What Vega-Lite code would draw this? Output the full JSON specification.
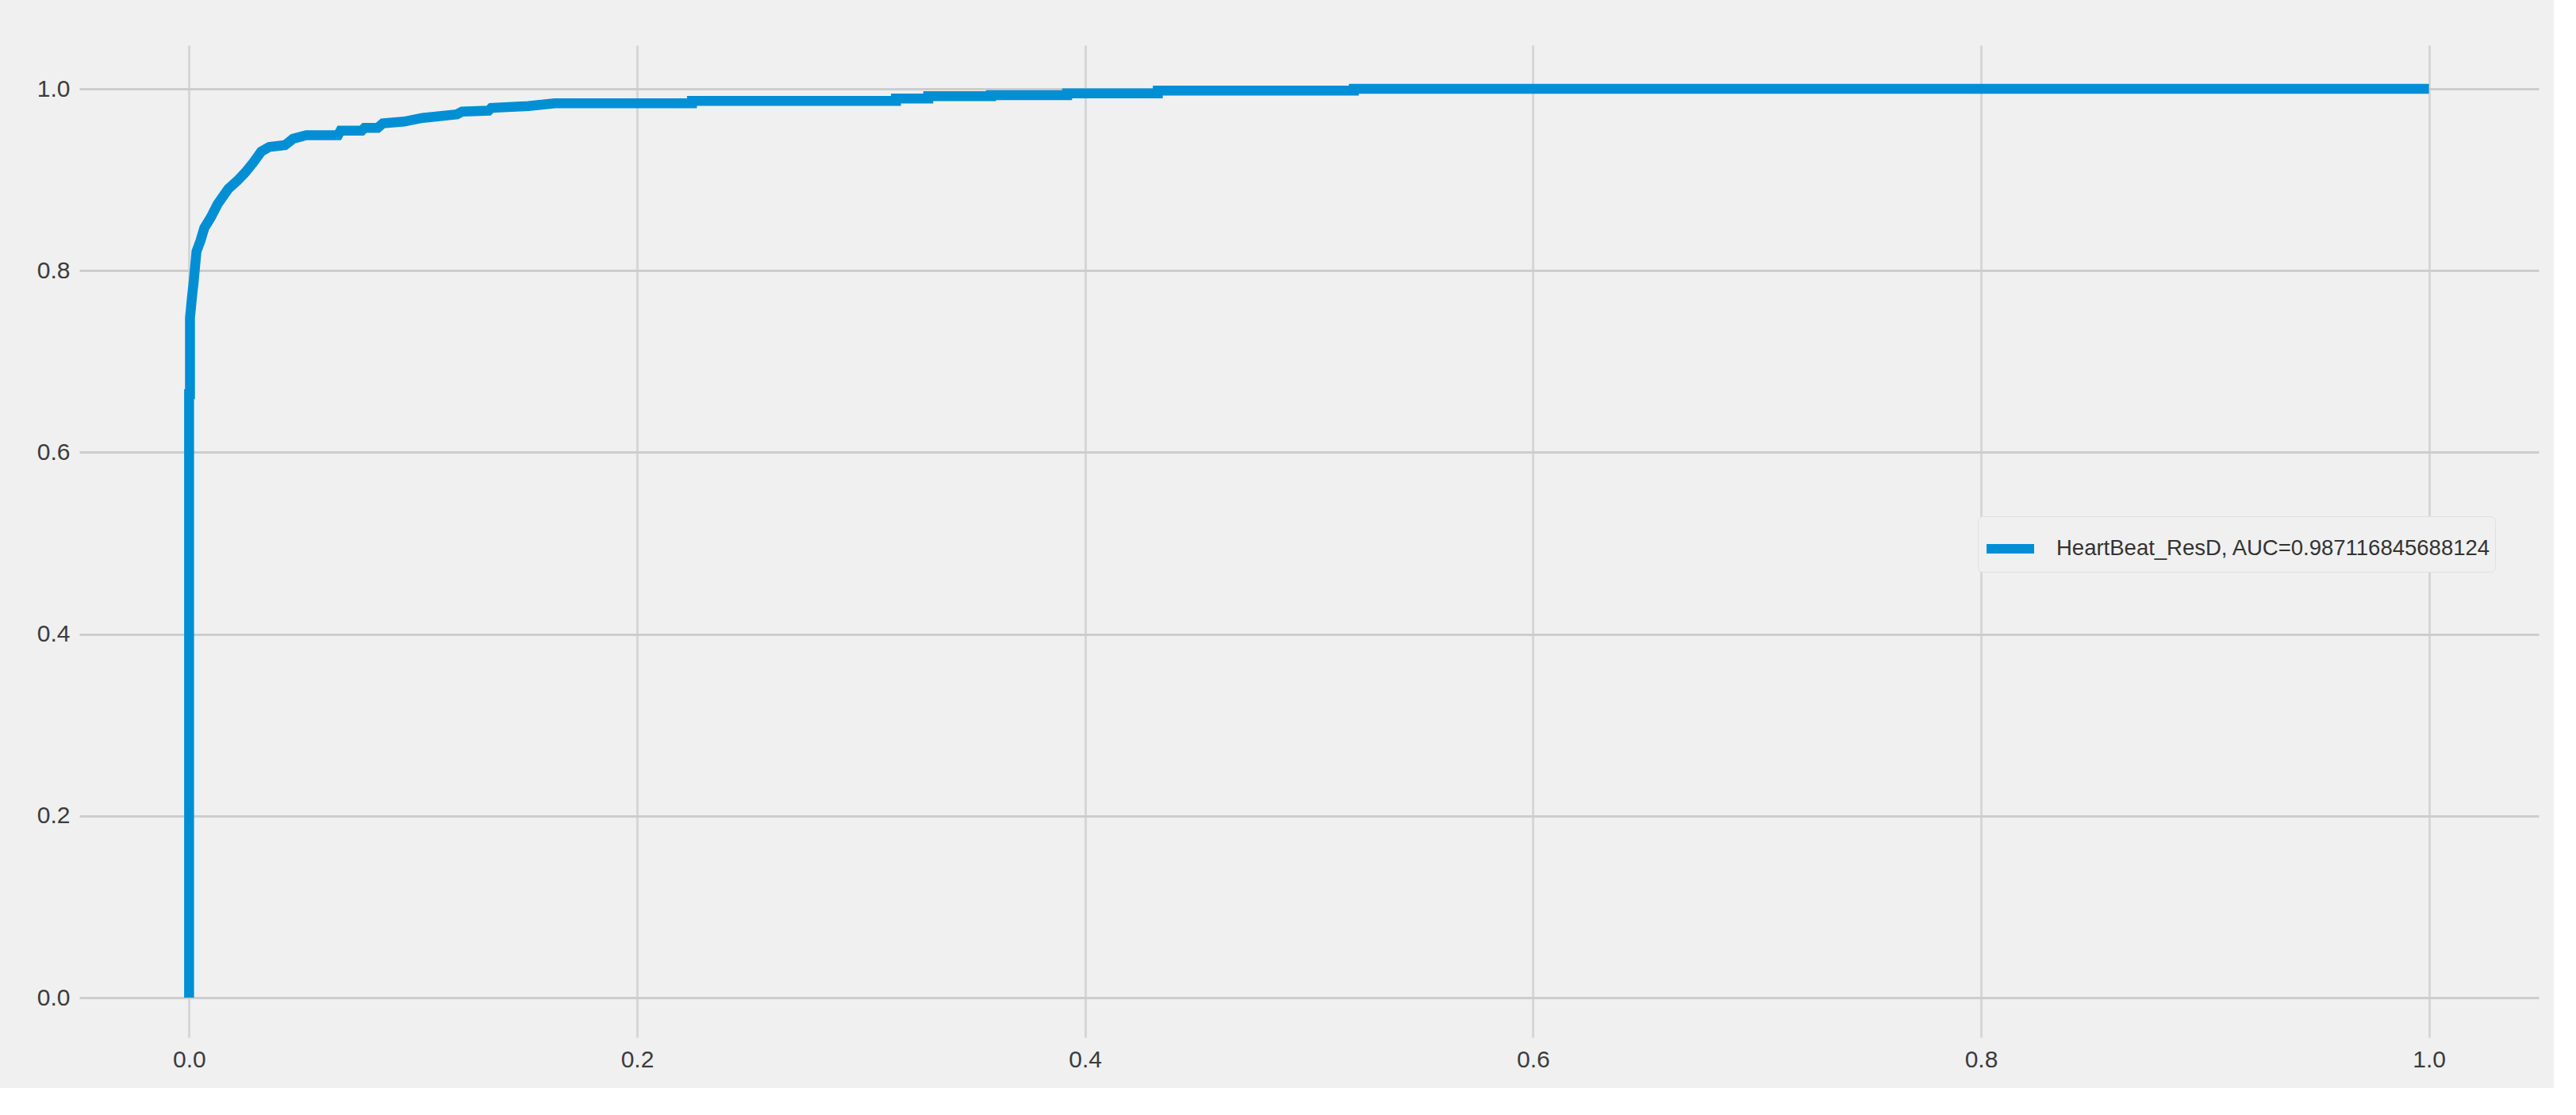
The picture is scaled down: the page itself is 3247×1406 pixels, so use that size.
{
  "$schema": "https://vega.github.io/schema/vega-lite/v6.json",
  "width": 3100,
  "height": 1251,
  "autosize": {"type": "none"},
  "padding": {"left": 100, "top": 57, "right": 19, "bottom": 64},
  "background": "#f0f0f0",
  "data": {
    "values": [
      {"i": 0, "fpr": 0, "tpr": 0, "s": "HeartBeat_ResD, AUC=0.987116845688124"},
      {"i": 1, "fpr": 0, "tpr": 0.664, "s": "HeartBeat_ResD, AUC=0.987116845688124"},
      {"i": 2, "fpr": 0.0004, "tpr": 0.664, "s": "HeartBeat_ResD, AUC=0.987116845688124"},
      {"i": 3, "fpr": 0.0004, "tpr": 0.748, "s": "HeartBeat_ResD, AUC=0.987116845688124"},
      {"i": 4, "fpr": 0.0013, "tpr": 0.771, "s": "HeartBeat_ResD, AUC=0.987116845688124"},
      {"i": 5, "fpr": 0.0021, "tpr": 0.789, "s": "HeartBeat_ResD, AUC=0.987116845688124"},
      {"i": 6, "fpr": 0.0033, "tpr": 0.821, "s": "HeartBeat_ResD, AUC=0.987116845688124"},
      {"i": 7, "fpr": 0.0051, "tpr": 0.833, "s": "HeartBeat_ResD, AUC=0.987116845688124"},
      {"i": 8, "fpr": 0.0068, "tpr": 0.847, "s": "HeartBeat_ResD, AUC=0.987116845688124"},
      {"i": 9, "fpr": 0.0098, "tpr": 0.859, "s": "HeartBeat_ResD, AUC=0.987116845688124"},
      {"i": 10, "fpr": 0.0127, "tpr": 0.873, "s": "HeartBeat_ResD, AUC=0.987116845688124"},
      {"i": 11, "fpr": 0.0175, "tpr": 0.890, "s": "HeartBeat_ResD, AUC=0.987116845688124"},
      {"i": 12, "fpr": 0.0216, "tpr": 0.899, "s": "HeartBeat_ResD, AUC=0.987116845688124"},
      {"i": 13, "fpr": 0.0251, "tpr": 0.908, "s": "HeartBeat_ResD, AUC=0.987116845688124"},
      {"i": 14, "fpr": 0.0287, "tpr": 0.919, "s": "HeartBeat_ResD, AUC=0.987116845688124"},
      {"i": 15, "fpr": 0.0322, "tpr": 0.931, "s": "HeartBeat_ResD, AUC=0.987116845688124"},
      {"i": 16, "fpr": 0.0358, "tpr": 0.936, "s": "HeartBeat_ResD, AUC=0.987116845688124"},
      {"i": 17, "fpr": 0.0428, "tpr": 0.938, "s": "HeartBeat_ResD, AUC=0.987116845688124"},
      {"i": 18, "fpr": 0.0464, "tpr": 0.945, "s": "HeartBeat_ResD, AUC=0.987116845688124"},
      {"i": 19, "fpr": 0.0523, "tpr": 0.949, "s": "HeartBeat_ResD, AUC=0.987116845688124"},
      {"i": 20, "fpr": 0.0665, "tpr": 0.949, "s": "HeartBeat_ResD, AUC=0.987116845688124"},
      {"i": 21, "fpr": 0.0676, "tpr": 0.954, "s": "HeartBeat_ResD, AUC=0.987116845688124"},
      {"i": 22, "fpr": 0.0771, "tpr": 0.954, "s": "HeartBeat_ResD, AUC=0.987116845688124"},
      {"i": 23, "fpr": 0.0783, "tpr": 0.957, "s": "HeartBeat_ResD, AUC=0.987116845688124"},
      {"i": 24, "fpr": 0.0842, "tpr": 0.957, "s": "HeartBeat_ResD, AUC=0.987116845688124"},
      {"i": 25, "fpr": 0.0865, "tpr": 0.962, "s": "HeartBeat_ResD, AUC=0.987116845688124"},
      {"i": 26, "fpr": 0.096, "tpr": 0.964, "s": "HeartBeat_ResD, AUC=0.987116845688124"},
      {"i": 27, "fpr": 0.1042, "tpr": 0.968, "s": "HeartBeat_ResD, AUC=0.987116845688124"},
      {"i": 28, "fpr": 0.1196, "tpr": 0.972, "s": "HeartBeat_ResD, AUC=0.987116845688124"},
      {"i": 29, "fpr": 0.1219, "tpr": 0.975, "s": "HeartBeat_ResD, AUC=0.987116845688124"},
      {"i": 30, "fpr": 0.1337, "tpr": 0.976, "s": "HeartBeat_ResD, AUC=0.987116845688124"},
      {"i": 31, "fpr": 0.1349, "tpr": 0.979, "s": "HeartBeat_ResD, AUC=0.987116845688124"},
      {"i": 32, "fpr": 0.1514, "tpr": 0.981, "s": "HeartBeat_ResD, AUC=0.987116845688124"},
      {"i": 33, "fpr": 0.1632, "tpr": 0.984, "s": "HeartBeat_ResD, AUC=0.987116845688124"},
      {"i": 34, "fpr": 0.2245, "tpr": 0.984, "s": "HeartBeat_ResD, AUC=0.987116845688124"},
      {"i": 35, "fpr": 0.2245, "tpr": 0.9866, "s": "HeartBeat_ResD, AUC=0.987116845688124"},
      {"i": 36, "fpr": 0.3156, "tpr": 0.9866, "s": "HeartBeat_ResD, AUC=0.987116845688124"},
      {"i": 37, "fpr": 0.3156, "tpr": 0.9893, "s": "HeartBeat_ResD, AUC=0.987116845688124"},
      {"i": 38, "fpr": 0.330, "tpr": 0.9893, "s": "HeartBeat_ResD, AUC=0.987116845688124"},
      {"i": 39, "fpr": 0.330, "tpr": 0.992, "s": "HeartBeat_ResD, AUC=0.987116845688124"},
      {"i": 40, "fpr": 0.358, "tpr": 0.992, "s": "HeartBeat_ResD, AUC=0.987116845688124"},
      {"i": 41, "fpr": 0.358, "tpr": 0.993, "s": "HeartBeat_ResD, AUC=0.987116845688124"},
      {"i": 42, "fpr": 0.392, "tpr": 0.993, "s": "HeartBeat_ResD, AUC=0.987116845688124"},
      {"i": 43, "fpr": 0.392, "tpr": 0.995, "s": "HeartBeat_ResD, AUC=0.987116845688124"},
      {"i": 44, "fpr": 0.4325, "tpr": 0.995, "s": "HeartBeat_ResD, AUC=0.987116845688124"},
      {"i": 45, "fpr": 0.4325, "tpr": 0.998, "s": "HeartBeat_ResD, AUC=0.987116845688124"},
      {"i": 46, "fpr": 0.520, "tpr": 0.998, "s": "HeartBeat_ResD, AUC=0.987116845688124"},
      {"i": 47, "fpr": 0.520, "tpr": 1.0, "s": "HeartBeat_ResD, AUC=0.987116845688124"},
      {"i": 48, "fpr": 1.0, "tpr": 1.0, "s": "HeartBeat_ResD, AUC=0.987116845688124"}
    ]
  },
  "mark": {"type": "line", "strokeWidth": 12.5, "strokeCap": "butt", "strokeJoin": "miter", "clip": false},
  "encoding": {
    "x": {
      "field": "fpr", "type": "quantitative",
      "scale": {"domain": [-0.049, 1.049], "nice": false, "zero": false},
      "axis": {"title": null, "values": [0, 0.2, 0.4, 0.6, 0.8, 1.0], "format": ".1f", "gridColor": "#d6d6d6", "labelPadding": 13}
    },
    "y": {
      "field": "tpr", "type": "quantitative",
      "scale": {"domain": [-0.0436, 1.048], "nice": false, "zero": false},
      "axis": {"title": null, "values": [0, 0.2, 0.4, 0.6, 0.8, 1.0], "format": ".1f", "gridColor": "#cdcdcd", "labelPadding": 12}
    },
    "order": {"field": "i", "type": "quantitative"},
    "color": {
      "field": "s", "type": "nominal",
      "scale": {"range": ["#008fd5"]},
      "legend": {
        "title": null,
        "orient": "none",
        "legendX": 2393,
        "legendY": 594,
        "fillColor": "#f0f0f0",
        "strokeColor": "#e0e0e0",
        "cornerRadius": 6,
        "padding": 5,
        "symbolType": "stroke",
        "symbolSize": 3600,
        "symbolStrokeWidth": 12,
        "symbolStrokeColor": "#008fd5",
        "labelFontSize": 27.5,
        "labelFont": "Liberation Sans",
        "labelColor": "#333333",
        "labelOffset": 22,
        "labelLimit": 1000
      }
    }
  },
  "config": {
    "view": {"stroke": null},
    "axis": {
      "domain": false,
      "ticks": false,
      "grid": true,
      "gridWidth": 3,
      "labelFont": "Liberation Sans",
      "labelFontSize": 30,
      "labelColor": "#3c3c3c"
    }
  }
}
